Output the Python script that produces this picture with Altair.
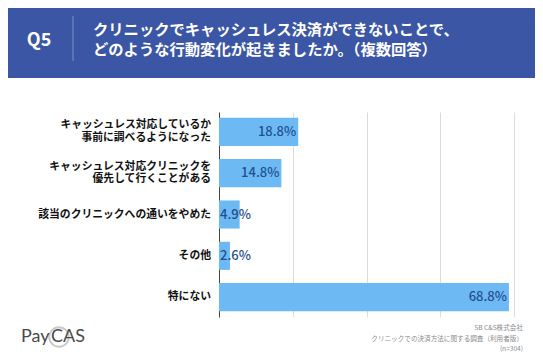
import altair as alt
import pandas as pd

categories = [
    "キャッシュレス対応しているか|事前に調べるようになった",
    "キャッシュレス対応クリニックを|優先して行くことがある",
    "該当のクリニックへの通いをやめた",
    "その他",
    "特にない",
]
values = [18.8, 14.8, 4.9, 2.6, 68.8]
value_labels = ["18.8%", "14.8%", "4.9%", "2.6%", "68.8%"]
title_lines = [
    "クリニックでキャッシュレス決済ができないことで、",
    "どのような行動変化が起きましたか。（複数回答）",
]
question = "Q5"
source_lines = ["SB C&S株式会社", "クリニックでの決済方法に関する調査（利用者版）", "(n=304)"]
grid_values = [0, 17.5, 35, 52.5, 70]

FONT = "Noto Sans CJK JP"
BAR = "#6db9f4"
LBL = "#1f4f8f"
BG = "#3a56a4"

df = pd.DataFrame({
    "cat": categories,
    "value": values,
    "label": value_labels,
})
df["inside"] = df["value"] > 10

rows = []
for c in categories:
    parts = c.split("|")
    if len(parts) == 1:
        rows.append({"cat": c, "t": parts[0], "pos": "single"})
    else:
        rows.append({"cat": c, "t": parts[0], "pos": "top"})
        rows.append({"cat": c, "t": parts[1], "pos": "bottom"})
cat_lines = pd.DataFrame(rows)

y_scale = alt.Scale(paddingInner=0.32, paddingOuter=0.14)
y_enc = alt.Y(
    "cat:N", sort=categories, title=None, scale=y_scale,
    axis=alt.Axis(labels=False, ticks=False, domainColor="#444",
                  domainWidth=1, grid=False),
)
x_enc = alt.X(
    "value:Q", title=None, scale=alt.Scale(domain=[0, 70], nice=False),
    axis=alt.Axis(values=grid_values, labels=False, ticks=False, domain=False,
                  grid=True, gridColor="#dcdcdc", gridWidth=1),
)

one = pd.DataFrame({"a": [0]})

hdr = alt.Chart(one).mark_rect(color=BG).encode(
    x=alt.value(-230), x2=alt.value(340), y=alt.value(-120), y2=alt.value(-34)
)
right_strip = alt.Chart(one).mark_rect(color=BG).encode(
    x=alt.value(317), x2=alt.value(340), y=alt.value(-40), y2=alt.value(260)
)
bottom_strip = alt.Chart(one).mark_rect(color=BG).encode(
    x=alt.value(-230), x2=alt.value(340), y=alt.value(243), y2=alt.value(260)
)

bars = alt.Chart(df).mark_bar(color=BAR).encode(x=x_enc, y=y_enc)


def cat_layer(pos, dy):
    return alt.Chart(cat_lines).transform_filter(
        f"datum.pos == '{pos}'"
    ).mark_text(
        align="right", baseline="middle", dy=dy, font=FONT, fontSize=10.8,
        fontWeight="bold", color="#111"
    ).encode(x=alt.value(-8), y=alt.Y("cat:N", sort=categories), text="t:N")


cat_single = cat_layer("single", 0)
cat_top = cat_layer("top", -6.5)
cat_bot = cat_layer("bottom", 6)

lab_in = alt.Chart(df).transform_filter("datum.inside").mark_text(
    align="right", baseline="middle", dx=-2, font=FONT, fontSize=13,
    fontWeight=500, color=LBL
).encode(x="value:Q", y=alt.Y("cat:N", sort=categories), text="label:N")

lab_out = alt.Chart(df).transform_filter("!datum.inside").mark_text(
    align="left", baseline="middle", dx=1, font=FONT, fontSize=13,
    fontWeight=500, color=LBL
).encode(x=alt.value(0), y=alt.Y("cat:N", sort=categories), text="label:N")

q = alt.Chart(pd.DataFrame({"t": [question]})).mark_text(
    align="center", baseline="middle", font=FONT, fontSize=18,
    fontWeight="bold", color="white"
).encode(x=alt.value(-180), y=alt.value(-71), text="t:N")

sep = alt.Chart(one).mark_rule(color="#7d92cc", strokeWidth=1).encode(
    x=alt.value(-146), y=alt.value(-96), y2=alt.value(-51)
)

title_df = pd.DataFrame({"t": title_lines, "i": [0, 1]})
titles = alt.Chart(title_df).transform_calculate(yy="-82 + datum.i * 20").mark_text(
    align="left", baseline="middle", font=FONT, fontSize=15.3,
    fontWeight="bold", color="white"
).encode(x=alt.value(-126), y=alt.Y("yy:Q", scale=None), text="t:N")

logo1 = alt.Chart(pd.DataFrame({"t": ["Pay"]})).mark_text(
    align="left", baseline="middle", font="Lato", fontSize=18, color="#4a4a4a"
).encode(x=alt.value(-198), y=alt.value(225), text="t:N")
logo_c = alt.Chart(one).mark_point(
    shape="circle", size=380, filled=False, color="#b5b5b5", strokeWidth=2
).encode(x=alt.value(-160), y=alt.value(225))
logo2 = alt.Chart(pd.DataFrame({"t": ["CAS"]})).mark_text(
    align="left", baseline="middle", font="Lato", fontSize=18, color="#4a4a4a"
).encode(x=alt.value(-168), y=alt.value(225), text="t:N")

src_df = pd.DataFrame({"t": source_lines, "i": [0, 1, 2]})
src = alt.Chart(src_df).transform_calculate(yy="216 + datum.i * 10.5").mark_text(
    align="right", baseline="middle", font=FONT, fontSize=6.6, color="#8a8a8a"
).encode(x=alt.value(304), y=alt.Y("yy:Q", scale=None), text="t:N")

chart = alt.layer(
    hdr, right_strip, bottom_strip, bars, cat_single, cat_top, cat_bot,
    lab_in, lab_out, q, sep, titles, logo_c, logo1, logo2, src
).resolve_scale(y="shared").properties(
    width=295, height=205,
    autosize=alt.AutoSizeParams(type="none"),
    padding={"left": 211, "top": 104, "right": 21, "bottom": 38},
    background="white",
).configure_view(stroke=None)

chart.save("out.html", embed_options={"renderer": "svg", "actions": False})
